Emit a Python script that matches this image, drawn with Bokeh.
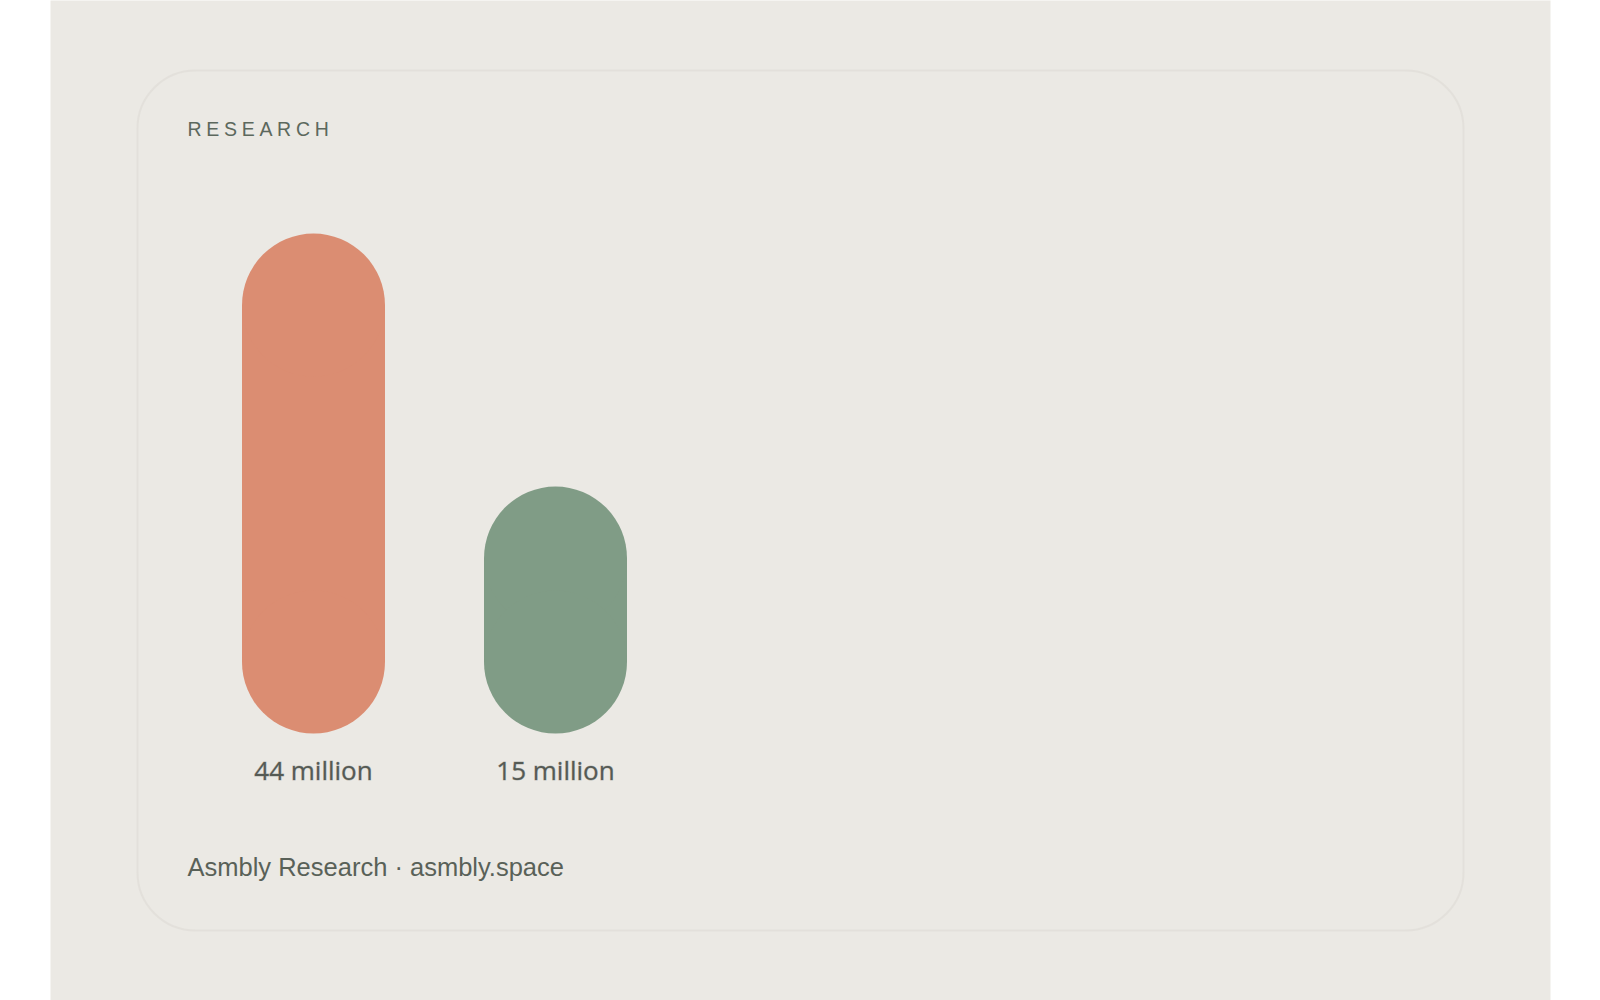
from bokeh.plotting import figure
from bokeh.models import Range1d, BoxAnnotation
from bokeh.core.properties import value
from bokeh.embed import file_html
from bokeh.resources import INLINE

# ---- data ----
categories = ["A", "B"]
values = [44, 15]                      # millions
labels = ["44 million", "15 million"]
colors = ["#db8d72", "#809c86"]
title_text = "RESEARCH"
footer_text = "Asmbly Research \u00b7 asmbly.space"

# ---- colours / styles ----
BG = "#ebe9e4"
CARD_LINE = "#cfcdc8"
LABEL_COLOR = "#555a54"
TITLE_COLOR = "#5c685d"
FOOTER_COLOR = "#596158"

# ---- layout (page pixels) ----
FIG_W, FIG_H = 1600, 1000
PAGE_OFF = 0
PANEL_L, PANEL_R = 50, 1550
FRAME_T, FRAME_B = PAGE_OFF, PAGE_OFF + FIG_H
BAR0_X = 313.0        # page x of first bar centre
BAR_STEP = 242.0      # page px between bar centres
BAR_W_PX = 143.0
BASE_Y_PX = 733.0     # page y of bar bottoms
PX_PER_UNIT = 8.724   # page px per million
BASE = -13.3          # pill floor value (visual offset)
TEXT_SHIFT = 8.0      # compensation for rendered text baseline

x_start = (PANEL_L - BAR0_X) / BAR_STEP
x_end = (PANEL_R - BAR0_X) / BAR_STEP
y_end = BASE + (BASE_Y_PX - FRAME_T) / PX_PER_UNIT
y_start = BASE - (FRAME_B - BASE_Y_PX) / PX_PER_UNIT


def px_x(page_x):
    return x_start + (page_x - PANEL_L) / (PANEL_R - PANEL_L) * (x_end - x_start)


def px_y(page_y):
    return y_end - (page_y - FRAME_T) / (FRAME_B - FRAME_T) * (y_end - y_start)


p = figure(width=FIG_W, height=FIG_H, output_backend="svg", toolbar_location=None,
           x_range=Range1d(x_start, x_end), y_range=Range1d(y_start, y_end),
           min_border_left=PANEL_L - PAGE_OFF, min_border_right=FIG_W - (PANEL_R - PAGE_OFF),
           min_border_top=0, min_border_bottom=0)
p.background_fill_color = BG
p.border_fill_color = "white"
p.outline_line_color = None
p.axis.visible = False
p.grid.visible = False

# card
card = BoxAnnotation(left=px_x(137), right=px_x(1463), top=px_y(70), bottom=px_y(930),
                     fill_alpha=0, line_color=CARD_LINE, line_width=2,
                     border_radius=58, level="underlay")
p.add_layout(card)

# pills
idx = list(range(len(values)))
r_data = (BAR_W_PX / 2) / PX_PER_UNIT
bw = BAR_W_PX / BAR_STEP
p.vbar(x=idx, bottom=[BASE + r_data] * len(values), top=[v - r_data for v in values],
       width=bw, fill_color=colors, line_color=None)
p.ellipse(x=idx, y=[v - r_data for v in values], width=BAR_W_PX, height=BAR_W_PX,
          width_units="screen", height_units="screen", fill_color=colors, line_color=None)
p.ellipse(x=idx, y=[BASE + r_data] * len(values), width=BAR_W_PX, height=BAR_W_PX,
          width_units="screen", height_units="screen", fill_color=colors, line_color=None)

# value labels
p.text(x=idx, y=[px_y(780.5 - TEXT_SHIFT - 3)] * len(values), text=labels,
       text_font=value("Open Sans"), text_font_size="26px", text_color=LABEL_COLOR,
       text_outline_color="rgba(85,90,84,0.35)",
       text_align="center", text_baseline="alphabetic")

# spaced title
adv = {"R": 0.722, "E": 0.667, "S": 0.667, "A": 0.667, "C": 0.722, "H": 0.722}
fs = 19.5
ls = 4.7
xs = []
cur = 187.0
for ch in title_text:
    xs.append(px_x(cur))
    cur += adv.get(ch, 0.667) * fs + ls
p.text(x=xs, y=[px_y(136.7 - TEXT_SHIFT)] * len(title_text), text=list(title_text),
       text_font=value("Liberation Sans"), text_font_size=f"{fs}px", text_color=TITLE_COLOR,
       text_align="left", text_baseline="alphabetic")

# footer
p.text(x=[px_x(187)], y=[px_y(874.3 - TEXT_SHIFT)], text=[footer_text],
       text_font=value("Liberation Sans"), text_font_size="25.5px", text_color=FOOTER_COLOR,
       text_align="left", text_baseline="alphabetic")

open("out.html", "w").write(file_html(p, INLINE))
